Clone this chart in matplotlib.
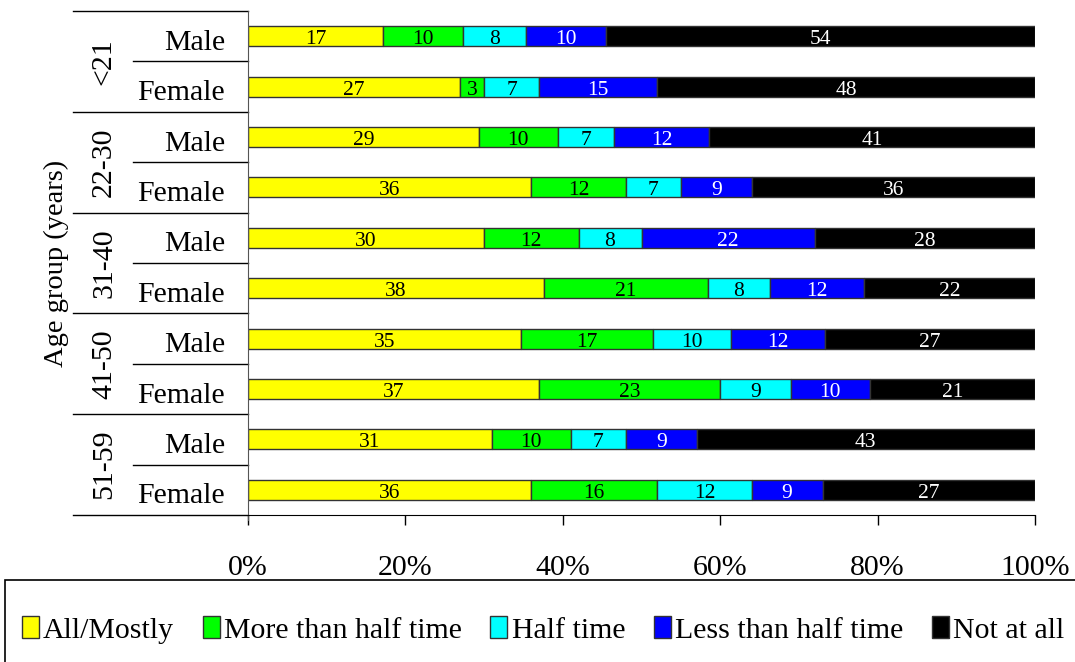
import numpy as np
import matplotlib
matplotlib.use("Agg")
import matplotlib.pyplot as plt
from matplotlib.patches import Rectangle

plt.rcParams['font.family'] = ['Liberation Serif', 'DejaVu Serif']

# data
groups = ["<21", "22-30", "31-40", "41-50", "51-59"]
sexes = ["Male", "Female"]
categories = ["All/Mostly", "More than half time", "Half time",
              "Less than half time", "Not at all"]
all_mostly = [17, 27, 29, 36, 30, 38, 35, 37, 31, 36]
more_half = [10, 3, 10, 12, 12, 21, 17, 23, 10, 16]
half_time = [8, 7, 7, 7, 8, 8, 10, 9, 7, 12]
less_half = [10, 15, 12, 9, 22, 12, 12, 10, 9, 9]
not_at_all = [54, 48, 41, 36, 28, 22, 27, 21, 43, 27]
xticks = [0, 20, 40, 60, 80, 100]

colors = ["#ffff00", "#00ff00", "#00ffff", "#0000ff", "#000000"]
text_colors = ["black", "black", "black", "white", "white"]
fs = 21.5

vals = np.array([all_mostly, more_half, half_time, less_half, not_at_all], dtype=float)
pct = vals / vals.sum(axis=0) * 100

fig = plt.figure(figsize=(10.75, 6.62), dpi=100)
W, H = 1075, 662
ax = fig.add_axes([248 / W, 1 - 515 / H, (1035 - 248) / W, (515 - 11) / H])

n = vals.shape[1]
y = np.arange(n) + 0.5
left = np.zeros(n)
for k in range(len(categories)):
    ax.barh(y, pct[k], left=left, height=0.4, color=colors[k],
            edgecolor="#333333", linewidth=1, label=categories[k])
    for i in range(n):
        ax.text(left[i] + pct[k][i] / 2, y[i] + 0.07, str(int(vals[k][i])),
                ha="center", va="center", fontsize=15.5, color=text_colors[k])
    left += pct[k]

ax.set_xlim(0, 100)
ax.set_ylim(n, 0)
ax.set_xticks(xticks)
ax.set_xticklabels([f"{t}%" for t in xticks], fontsize=fs)
ax.tick_params(axis="x", direction="out", length=7, width=1, pad=22)
ax.set_yticks([])
for s in ["top", "right"]:
    ax.spines[s].set_visible(False)
ax.spines["left"].set_color("#555555")
ax.spines["left"].set_bounds(n + 0.1, 0)

# row labels and separators
x_grp = -175 / 787
x_sub = -115 / 787
trans = ax.get_yaxis_transform()
ax.plot([x_grp, 0], [0, 0], color="black", lw=1, transform=trans, clip_on=False)
for g in range(len(groups)):
    ax.plot([x_grp, 0], [2 * g + 2, 2 * g + 2], color="black", lw=1,
            transform=trans, clip_on=False)
    ax.plot([x_sub, 0], [2 * g + 1, 2 * g + 1], color="black", lw=1,
            transform=trans, clip_on=False)
    ax.text(-144 / 787, 2 * g + 1, groups[g], rotation=90, ha="center",
            va="center", fontsize=fs, transform=trans)
    for s in range(2):
        ax.text(-23 / 787, 2 * g + s + 0.63, sexes[s], ha="right", va="center",
                fontsize=fs, transform=trans)
ax.text(-192 / 787, n / 2, "Age group (years)", rotation=90, ha="center",
        va="center", fontsize=20.5, transform=trans)

# legend box
fig.patches.append(Rectangle((5 / W, -0.01), 1.02, (662 - 580) / H + 0.01,
                             transform=fig.transFigure, fill=False,
                             edgecolor="black", lw=1.2))
fig.legend(loc="center", bbox_to_anchor=(543 / W, 1 - 630 / H), ncol=5,
           frameon=False, fontsize=fs, handlelength=0.57, handleheight=0.75,
           handletextpad=0.15, columnspacing=0.95)

fig.savefig("out.png", dpi=100)
